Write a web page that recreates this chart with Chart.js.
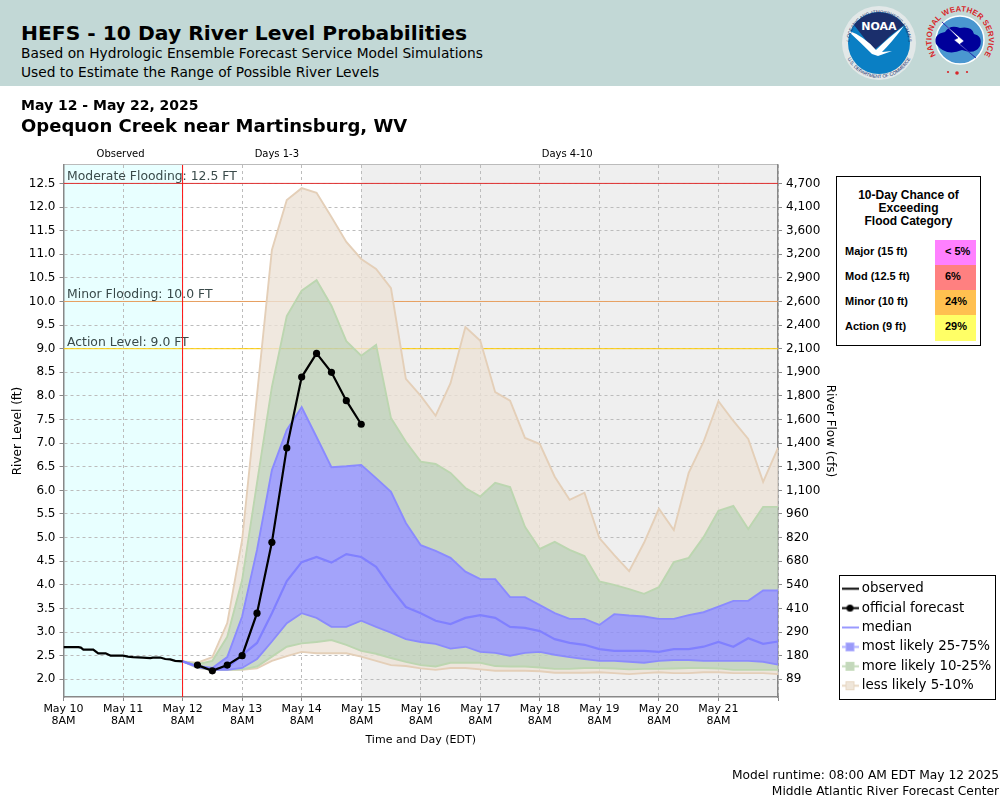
<!DOCTYPE html>
<html><head><meta charset="utf-8">
<script src="https://cdn.jsdelivr.net/npm/chart.js@4"></script>
<style>
html,body{margin:0;padding:0;background:#fff;width:1000px;height:800px;overflow:hidden;font-family:"DejaVu Sans",sans-serif;color:#000}
#c{position:absolute;left:0;top:0}
.t{position:absolute;white-space:nowrap;line-height:1}
#head{position:absolute;left:0;top:0;width:1000px;height:86px;background:#c2d8d6}
#box{position:absolute;left:836px;top:176px;width:143px;height:168px;border:1px solid #000;background:#fff;box-sizing:content-box}
.p{font-family:"Liberation Sans",sans-serif;font-weight:bold;position:absolute;white-space:nowrap;line-height:1}
svg{position:absolute}
</style></head><body>
<canvas id="c" width="1000" height="800"></canvas>
<div id="head"></div>
<div class="t" style="left:21px;top:23px;font-size:20.27px;font-weight:bold">HEFS - 10 Day River Level Probabilities</div>
<div class="t" style="left:21px;top:47px;font-size:13.77px">Based on Hydrologic Ensemble Forecast Service Model Simulations</div>
<div class="t" style="left:21px;top:66px;font-size:13.77px">Used to Estimate the Range of Possible River Levels</div>
<div class="t" style="left:21px;top:98px;font-size:14px;font-weight:bold">May 12 - May 22, 2025</div>
<div class="t" style="left:21px;top:117px;font-size:18px;font-weight:bold">Opequon Creek near Martinsburg, WV</div>
<div class="t" style="right:1px;top:769px;font-size:12.24px">Model runtime: 08:00 AM EDT May 12 2025</div>
<div class="t" style="right:1px;top:785px;font-size:12.24px">Middle Atlantic River Forecast Center</div>

<svg width="170" height="86" style="left:830px;top:0" viewBox="0 0 170 86">
  <defs>
    <path id="n1" d="M 19.5 43 A 29.5 29.5 0 0 1 78.5 43"/>
    <path id="n2" d="M 14 43 A 35 35 0 0 0 84 43"/>
    <path id="w1" d="M 111.7 61.8 A 28.5 28.5 0 1 1 148.3 61.8"/>
  </defs>
  <circle cx="49" cy="43" r="37" fill="#e2e8e8"/>
  <circle cx="49" cy="43" r="31" fill="#0a7fc4"/>
  <path d="M24 25 A31 31 0 0 1 74 25 L60 36 Q52 44 44 50 Q34 38 24 25Z" fill="#1b2f6c"/>
  <path d="M17 30 Q34 36 46 50 Q58 38 74 26 Q62 42 52 52 L62 51 L48 56 L42 54 Q30 42 17 30Z" fill="#fff"/>
  <text x="49" y="30" text-anchor="middle" font-family="DejaVu Sans" font-size="11" font-weight="bold" fill="#fff">NOAA</text>
  <text font-size="4.6" font-family="Liberation Sans" fill="#1b2f6c"><textPath href="#n1" startOffset="50%" text-anchor="middle">NATIONAL OCEANIC AND ATMOSPHERIC ADMINISTRATION</textPath></text>
  <text font-size="4.6" font-family="Liberation Sans" fill="#1b2f6c"><textPath href="#n2" startOffset="50%" text-anchor="middle">U.S. DEPARTMENT OF COMMERCE</textPath></text>

  <circle cx="130" cy="40" r="24" fill="#4a97d0" stroke="#fff" stroke-width="1.5"/>
  <path d="M106 44 Q103 34 115 32 Q120 24 130 28 Q142 26 144 34 Q153 36 150 46 Q145 55 132 50 Q116 57 106 44Z" fill="#00009a"/>
  <path d="M112 22 L128 38 L124 40 L146 58 L130 44 L134 41 Z" fill="#fff" stroke="#00009a" stroke-width=".5"/>
  <text font-size="7.8" font-weight="bold" font-family="Liberation Sans" fill="#d8262a" letter-spacing=".2"><textPath href="#w1" startOffset="50%" text-anchor="middle">NATIONAL WEATHER SERVICE</textPath></text>
  <circle cx="118" cy="72" r="1.1" fill="#d8262a"/><circle cx="137" cy="72" r="1.1" fill="#d8262a"/><circle cx="127" cy="73" r="1.8" fill="#d8262a"/>
</svg>

<div id="box"></div>
<div id="prob"></div>

<script>
const forecastHours = [48,54,60,66,72,78,84,90,96,102,108,114,120,126,132,138,144,150,156,162,168,174,180,186,192,198,204,210,216,222,228,234,240,246,252,258,264,270,276,282,288];
const lessUpper = [2.38,2.35,2.47,3.19,4.95,8.02,11.09,12.15,12.40,12.30,11.79,11.26,10.90,10.69,10.28,8.36,8.00,7.58,8.27,9.46,9.17,8.08,7.90,7.11,6.98,6.29,5.80,5.95,4.99,4.63,4.29,4.89,5.61,5.16,6.37,7.03,7.89,7.47,7.09,6.18,6.90];
const moreUpper = [2.38,2.32,2.39,2.90,4.10,6.16,8.19,9.69,10.23,10.45,9.91,9.16,8.85,9.08,7.53,7.03,6.61,6.56,6.37,6.05,5.87,6.16,6.07,5.23,4.76,4.91,4.74,4.61,4.07,4.00,3.91,3.81,3.95,4.48,4.57,5.01,5.57,5.67,5.18,5.65,5.65];
const mostUpper = [2.38,2.28,2.24,2.47,3.33,4.74,6.43,7.28,7.76,7.13,6.49,6.51,6.54,6.26,5.97,5.31,4.84,4.72,4.57,4.28,4.12,4.12,3.74,3.74,3.57,3.40,3.28,3.28,3.15,3.38,3.35,3.33,3.28,3.28,3.36,3.42,3.54,3.66,3.66,3.88,3.88];
const medianLevels = [2.38,2.27,2.22,2.24,2.51,2.77,3.40,4.08,4.48,4.59,4.47,4.65,4.59,4.38,3.93,3.53,3.40,3.24,3.17,3.30,3.36,3.30,3.11,3.09,3.02,2.85,2.77,2.73,2.64,2.60,2.60,2.60,2.58,2.64,2.64,2.69,2.79,2.69,2.87,2.75,2.80];
const mostLower = [2.38,2.26,2.20,2.20,2.24,2.43,2.80,3.19,3.40,3.30,3.11,3.11,3.24,3.11,2.99,2.85,2.79,2.75,2.65,2.69,2.58,2.56,2.50,2.56,2.58,2.52,2.47,2.43,2.39,2.39,2.37,2.35,2.39,2.41,2.41,2.39,2.39,2.39,2.39,2.37,2.31];
const moreLower = [2.38,2.25,2.20,2.20,2.21,2.27,2.48,2.69,2.76,2.79,2.83,2.73,2.60,2.54,2.45,2.37,2.30,2.27,2.35,2.35,2.35,2.28,2.27,2.27,2.25,2.22,2.22,2.24,2.24,2.23,2.21,2.22,2.22,2.23,2.24,2.24,2.23,2.20,2.20,2.20,2.20];
const lessLower = [2.38,2.24,2.20,2.20,2.20,2.23,2.39,2.49,2.58,2.55,2.55,2.55,2.48,2.39,2.30,2.28,2.23,2.20,2.24,2.24,2.21,2.18,2.18,2.18,2.17,2.14,2.14,2.14,2.15,2.13,2.11,2.13,2.15,2.13,2.13,2.15,2.15,2.13,2.13,2.13,2.11];
const officialHours = [54,60,66,72,78,84,90,96,102,108,114,120];
const officialLevels = [2.30,2.18,2.30,2.50,3.40,4.90,6.90,8.40,8.90,8.50,7.90,7.40];
const observedHours = [0,6,7,8,12,14,17,19,24,26,28,32,35,36,39,41,43,45,48];
const observedLevels = [2.68,2.68,2.67,2.63,2.63,2.55,2.55,2.50,2.50,2.48,2.47,2.46,2.45,2.46,2.46,2.43,2.42,2.39,2.38];
const yTicks = [2.0,2.5,3.0,3.5,4.0,4.5,5.0,5.5,6.0,6.5,7.0,7.5,8.0,8.5,9.0,9.5,10.0,10.5,11.0,11.5,12.0,12.5];
const flowLabels = ['89','180','290','410','540','680','820','960','1,100','1,300','1,400','1,600','1,800','1,900','2,100','2,400','2,600','2,900','3,200','3,600','4,100','4,700'];
const xTickHours = [0,24,48,72,96,120,144,168,192,216,240,264,288];
const xTickDays = ['May 10','May 11','May 12','May 13','May 14','May 15','May 16','May 17','May 18','May 19','May 20','May 21'];
const xTickTime = '8AM';
const floodLevels = [12.5,10.0,9.0];
const floodNames = ['Moderate Flooding: 12.5 FT','Minor Flooding: 10.0 FT','Action Level: 9.0 FT'];
const floodColors = ['#e03030','#e8a060','#ffcc00'];
const chanceTitle = ['10-Day Chance of','Exceeding','Flood Category'];
const chanceNames = ['Major (15 ft)','Mod (12.5 ft)','Minor (10 ft)','Action (9 ft)'];
const chanceValues = ['< 5%','6%','24%','29%'];
const chanceColors = ['#ff80ff','#ff8080','#ffc050','#ffff66'];
const legendNames = ['observed','official forecast','median','most likely 25-75%','more likely 10-25%','less likely 5-10%'];
const yMin = 1.625, yMax = 12.89, xMin = 0, xMax = 288, nowHour = 48;

(function(){
  const host = document.getElementById('prob');
  const add = (cls, txt, css) => { const d = document.createElement('div'); d.className = cls; d.textContent = txt; d.style.cssText = css; host.appendChild(d); };
  chanceTitle.forEach((s,i)=> add('p', s, `left:837px;width:143px;text-align:center;top:${189+i*13}px;font-size:12px`));
  chanceNames.forEach((s,i)=>{
    const top = 240 + i*25;
    add('p', '', `left:935px;width:41px;height:${i==3?26:25}px;top:${top}px;background:${chanceColors[i]}`);
    add('p', s, `left:845px;top:${top+6}px;font-size:11px`);
    add('p', chanceValues[i], `left:945px;top:${top+6}px;font-size:11px`);
  });
})();

const pts = (xs, ys) => xs.map((x,i)=>({x, y:ys[i]}));

function swatch(kind, color, fill){
  const cv = document.createElement('canvas'); cv.width = 17; cv.height = 13;
  const g = cv.getContext('2d');
  g.strokeStyle = color; g.lineWidth = 2; g.beginPath(); g.moveTo(0,6.5); g.lineTo(17,6.5); g.stroke();
  if(kind==='dot'){ g.fillStyle = color; g.beginPath(); g.arc(8.5,6.5,3.5,0,Math.PI*2); g.fill(); }
  if(kind==='box'){ g.fillStyle = fill; g.lineWidth = 1; g.fillRect(4.5,2.5,8,8); g.strokeRect(4.5,2.5,8,8); }
  return cv;
}
const legendMarks = [
  swatch('line','#000'), swatch('dot','#000'), swatch('line','#9a9aff'),
  swatch('box','#b0b0ff','#9a9af9'), swatch('box','#c6dcbc','#c4d8bc'), swatch('box','#e8d8c4','#efe6da')
];

const tanFill='rgba(236,226,214,.78)', tanLine='#e4cfb8';
const greenFill='rgba(190,207,184,.8)', greenLine='#bcd6b0';
const blueFill='rgba(140,140,249,.8)', blueLine='#8a8aff';

const band = (label, ys, line, fill, target) => ({label, data:pts(forecastHours,ys), borderColor:line, borderWidth:1.9, pointRadius:0, tension:0,
   fill: target===undefined ? false : {target}, backgroundColor:fill});

const datasets = [
 {label:legendNames[0], data:pts(observedHours,observedLevels), borderColor:'#000', borderWidth:2.2, pointRadius:0, tension:0, fill:false},
 {label:legendNames[1], data:pts(officialHours,officialLevels), borderColor:'#000', backgroundColor:'#000', borderWidth:2.2, pointRadius:3.6, pointBorderWidth:0, pointBackgroundColor:'#000', tension:0, fill:false},
 {label:legendNames[2], data:pts(forecastHours,medianLevels), borderColor:'#8080ff', borderWidth:2.2, pointRadius:0, tension:0, fill:false},
 {label:'now', data:[{x:nowHour,y:yMin},{x:nowHour,y:yMax}], borderColor:'#ff1010', borderWidth:1, pointRadius:0, fill:false},
 band(legendNames[3], mostUpper, blueLine, blueFill, 5),
 band('most lower', mostLower, blueLine, blueFill),
 band(legendNames[4], moreUpper, greenLine, greenFill, 4),
 band('more lower', moreLower, greenLine, greenFill, 5),
 band(legendNames[5], lessUpper, tanLine, tanFill, 6),
 band('less lower', lessLower, tanLine, tanFill, 7),
 ...floodLevels.map((v,i)=>({label:floodNames[i], data:[{x:xMin,y:v},{x:xMax,y:v}], borderColor:floodColors[i], borderWidth:1, pointRadius:0, fill:false}))
];

const layoutPlugin = {
  id:'frame',
  afterLayout(chart){
    const l = chart.legend;
    const pad = l.options.labels.padding;
    l.left = 845 - pad; l.right = 995; l.top = 582 - pad; l.bottom = 699;
  },
  beforeDraw(chart){
    const {ctx, chartArea:a, scales:{x}} = chart;
    ctx.save();
    ctx.fillStyle = '#e8ffff'; ctx.fillRect(a.left, a.top, x.getPixelForValue(48)-a.left, a.bottom-a.top);
    ctx.fillStyle = '#efefef'; const gx = x.getPixelForValue(120); ctx.fillRect(gx, a.top, a.right-gx, a.bottom-a.top);
    ctx.strokeStyle = '#000'; ctx.lineWidth = 1; ctx.strokeRect(839.5,575.5,156,124);
    ctx.strokeStyle = '#bbb'; ctx.beginPath(); ctx.moveTo(a.left,a.top-0.5); ctx.lineTo(a.right,a.top-0.5); ctx.stroke();
    ctx.restore();
  },
  beforeDatasetsDraw(chart){
    const {ctx, chartArea:a, scales:{x,y}} = chart;
    ctx.save();
    ctx.font = '12.4px "DejaVu Sans"'; ctx.fillStyle = '#3a4a4a'; ctx.textBaseline='alphabetic'; ctx.textAlign='left';
    floodLevels.forEach((v,i)=> ctx.fillText(floodNames[i], a.left+3.5, y.getPixelForValue(v)-3));
    ctx.font = '10px "DejaVu Sans"'; ctx.fillStyle='#000'; ctx.textAlign='center';
    ctx.fillText('Observed', x.getPixelForValue(23), 157);
    ctx.fillText('Days 1-3', x.getPixelForValue(86), 157);
    ctx.fillText('Days 4-10', x.getPixelForValue(203), 157);
    ctx.restore();
  }
};

new Chart(document.getElementById('c'), {
  type:'line',
  data:{datasets},
  plugins:[layoutPlugin],
  options:{
    responsive:false, animation:false, devicePixelRatio:1,
    layout:{padding:{top:165,left:0,right:0,bottom:0}},
    plugins:{
      title:{display:false}, tooltip:{enabled:false},
      legend:{position:'right', align:'start', fullSize:true,
        labels:{ usePointStyle:true, pointStyleWidth:10, boxHeight:10, padding:6, color:'#000',
          font:{family:'"DejaVu Sans"', size:13.4},
          generateLabels(){ return legendNames.map((text,i)=>({text, pointStyle:legendMarks[i], fillStyle:'#000', strokeStyle:'#000', lineWidth:0, hidden:false, fontColor:'#000'})); }
        }}
    },
    scales:{
      x:{type:'linear', min:xMin, max:xMax,
        afterFit(s){ s.height = 103; },
        afterBuildTicks(s){ s.ticks = xTickHours.map(value=>({value})); },
        ticks:{autoSkip:false, maxRotation:0, minRotation:0, padding:2, color:'#000', font:{family:'"DejaVu Sans"',size:11,lineHeight:1.1},
          callback(v){ const i = xTickHours.indexOf(v); return xTickDays[i] ? [xTickDays[i], xTickTime] : ''; }},
        grid:{color:'#bcbcbc', tickColor:'#888', tickLength:4},
        border:{color:'#888', width:1.5, dash:[3,3]},
        title:{display:true, text:'Time and Day (EDT)', color:'#000', font:{family:'"DejaVu Sans"',size:11}, padding:{top:0,bottom:53.4}}
      },
      y:{type:'linear', position:'left', min:yMin, max:yMax,
        afterFit(s){ s.width = 63.5; },
        afterBuildTicks(s){ s.ticks = yTicks.map(value=>({value})); },
        ticks:{autoSkip:false, padding:4, color:'#000', font:{family:'"DejaVu Sans"',size:12}, callback(v){ return v.toFixed(1); }},
        grid:{color:'#bcbcbc', tickColor:'#888', tickLength:4},
        border:{color:'#888', width:1.5, dash:[3,3]},
        title:{display:true, text:'River Level (ft)', color:'#000', font:{family:'"DejaVu Sans"',size:12}, padding:{top:11,bottom:0}}
      },
      y1:{type:'linear', position:'right', min:yMin, max:yMax,
        afterFit(s){ s.width = 59.86; },
        afterBuildTicks(s){ s.ticks = yTicks.map(value=>({value})); },
        ticks:{autoSkip:false, padding:4, color:'#000', font:{family:'"DejaVu Sans"',size:12}, callback(v){ return flowLabels[yTicks.indexOf(v)]; }},
        grid:{drawOnChartArea:false, tickColor:'#888', tickLength:4},
        border:{color:'#888', width:1.5},
        title:{display:true, text:'River Flow (cfs)', color:'#000', font:{family:'"DejaVu Sans"',size:12}, padding:{top:0.4,bottom:0}}
      }
    }
  }
});
</script>
</body></html>
